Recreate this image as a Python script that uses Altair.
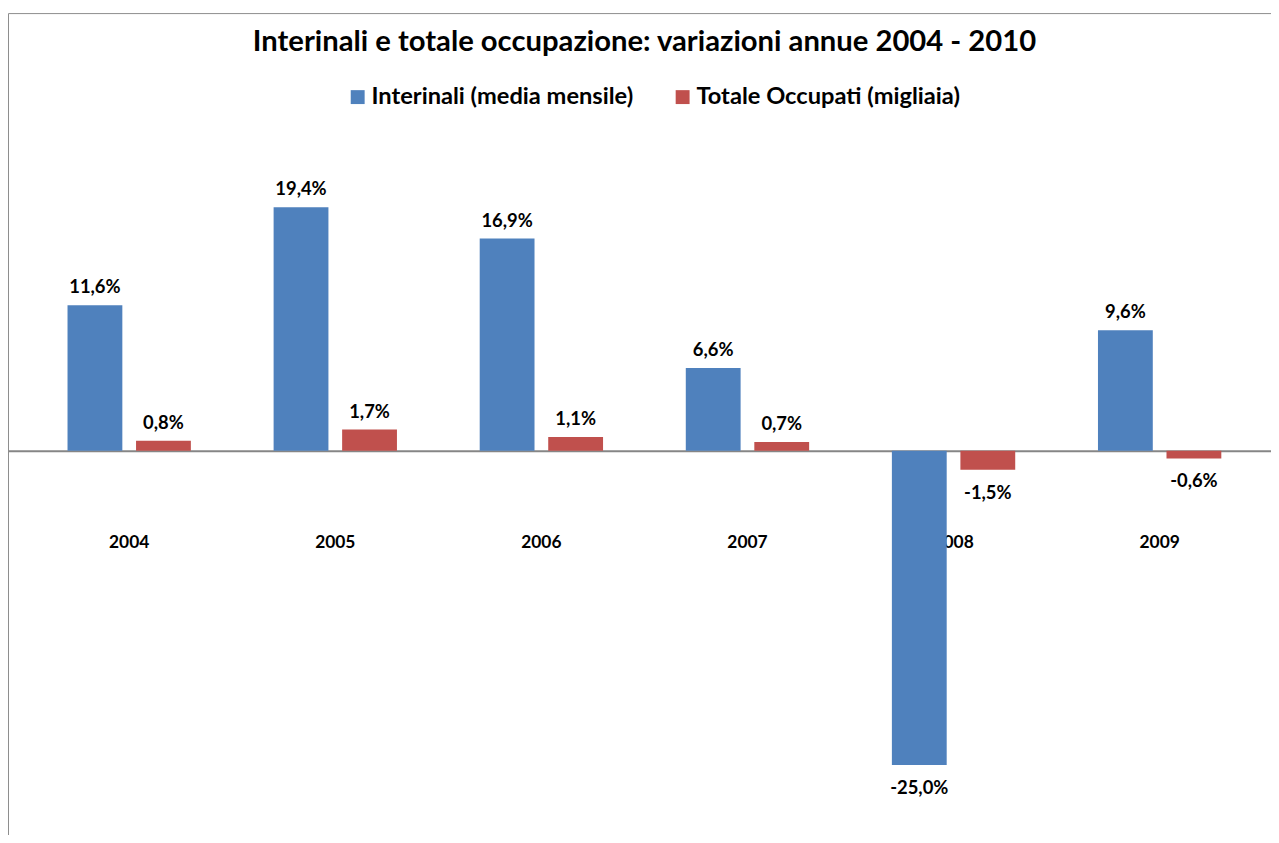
import altair as alt
import pandas as pd

years = ["2004", "2005", "2006", "2007", "2008", "2009"]
series = ["Interinali (media mensile)", "Totale Occupati (migliaia)"]
interinali = [11.6, 19.4, 16.9, 6.6, -25.0, 9.6]
totale = [0.8, 1.7, 1.1, 0.7, -1.5, -0.6]
colors = ["#4F81BD", "#C0504D"]

rows = []
for s, vals in zip(series, [interinali, totale]):
    for y, v in zip(years, vals):
        rows.append({"year": y, "serie": s, "value": v,
                     "label": f"{v:.1f}".replace(".", ",") + "%"})
df = pd.DataFrame(rows)

FONT = "Lato"
W, H = 1271, 670

x_enc = alt.X("year:N",
              scale=alt.Scale(paddingInner=0.335, paddingOuter=0.2317, align=0.5515),
              axis=alt.Axis(title=None, orient="bottom", offset=-271, domain=False,
                            ticks=False, labelPadding=0, labelAngle=0,
                            labelFont=FONT, labelFontSize=17.5, labelFontWeight="bold",
                            labelColor="#000000"))
xo_enc = alt.XOffset("serie:N",
                     scale=alt.Scale(paddingInner=0.2, paddingOuter=0.1))
y_enc = alt.Y("value:Q", stack=None,
              scale=alt.Scale(domain=[-28, 25], nice=False),
              axis=alt.Axis(values=[0], grid=True, gridColor="#868686", gridWidth=2,
                            labels=False, ticks=False, domain=False, title=None))
color_enc = alt.Color("serie:N",
                      scale=alt.Scale(domain=series, range=colors),
                      legend=alt.Legend(title=None, orient="none", direction="horizontal",
                                        legendX=340, legendY=-52,
                                        symbolType="square", symbolSize=196,
                                        symbolStrokeWidth=0,
                                        labelFont=FONT, labelFontSize=23.8,
                                        labelFontWeight="bold", labelColor="#000000",
                                        labelOffset=2, columnPadding=37, labelLimit=400))

base = alt.Chart(df)

border = alt.Chart(pd.DataFrame({"a": [0]})).mark_rect(
    fillOpacity=0, stroke="#8c8c8c", strokeWidth=1
).encode(x=alt.value(0.5), x2=alt.value(W + 40), y=alt.value(-124), y2=alt.value(H + 100))

bars = base.mark_bar().encode(x=x_enc, xOffset=xo_enc, y=y_enc, color=color_enc)

pos_labels = base.transform_filter("datum.value >= 0").mark_text(
    baseline="bottom", dy=-8, font=FONT, fontSize=18.5, fontWeight="bold", color="#000000"
).encode(x=x_enc, xOffset=xo_enc, y=y_enc, text="label:N")

neg_labels = base.transform_filter("datum.value < 0").mark_text(
    baseline="top", dy=14, font=FONT, fontSize=18.5, fontWeight="bold", color="#000000"
).encode(x=x_enc, xOffset=xo_enc, y=y_enc, text="label:N")

chart = alt.layer(border, bars, pos_labels, neg_labels).properties(
    width=W, height=H,
    autosize=alt.AutoSizeParams(type="none"),
    padding={"left": 0, "top": 127, "right": 0, "bottom": 30},
    title=alt.Title("Interinali e totale occupazione: variazioni annue 2004 - 2010",
                    font=FONT, fontSize=29.4, fontWeight="bold", color="#000000",
                    anchor="middle", baseline="bottom", offset=-74, dx=5),
).configure_view(stroke=None)

chart.save("out.html", embed_options={"renderer": "svg", "actions": False})
